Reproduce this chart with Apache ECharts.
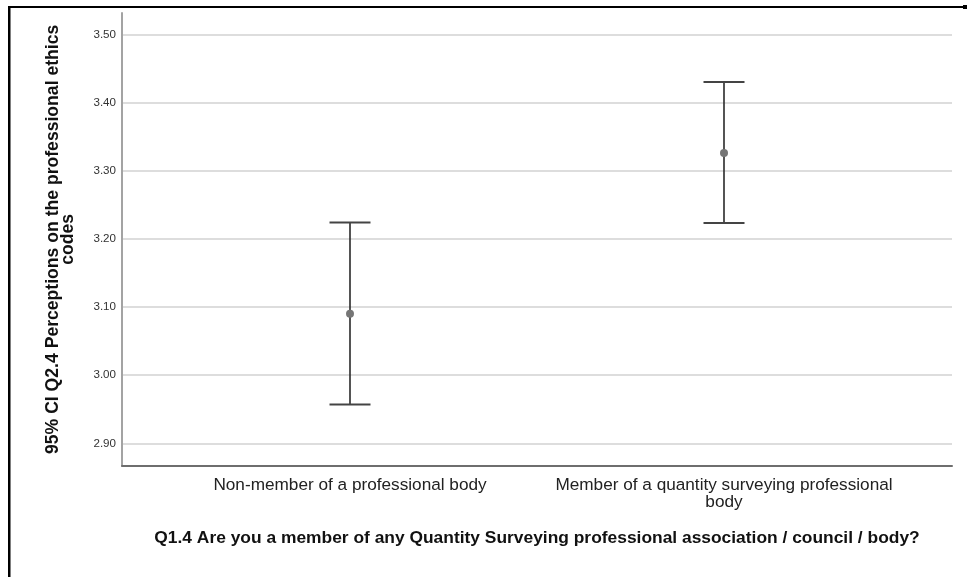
<!DOCTYPE html>
<html>
<head>
<meta charset="utf-8">
<script src="https://cdn.jsdelivr.net/npm/echarts@6/dist/echarts.min.js"></script>
<style>
  html, body { margin: 0; padding: 0; background: #fff; }
  #chart { width: 967px; height: 577px; }
</style>
</head>
<body>
<div id="chart"></div>
<script>
// Group labels along the horizontal axis
const categories = [
  'Non-member of a professional body',
  'Member of a quantity surveying professional\nbody'
];
// Group means and 95% confidence limits
const means   = [3.090, 3.326];
const lowerCI = [2.957, 3.223];
const upperCI = [3.224, 3.430];
// Value-axis tick range
const yMin = 2.9;
const yMax = 3.5;
const yStep = 0.1;

const FONT = '"Liberation Sans", Arial, sans-serif';

const chart = echarts.init(document.getElementById('chart'), null, { renderer: 'canvas' });

const errorData = categories.map((c, i) => [i, lowerCI[i], upperCI[i], means[i]]);

function renderErrorBar(params, api) {
  const x = api.value(0);
  const lo = api.coord([x, api.value(1)]);
  const hi = api.coord([x, api.value(2)]);
  const m  = api.coord([x, api.value(3)]);
  const half = 20.5;
  return {
    type: 'group',
    children: [
      { type: 'line', shape: { x1: lo[0], y1: lo[1], x2: hi[0], y2: hi[1] },
        style: { stroke: '#2a2a2a', lineWidth: 1.6 } },
      { type: 'line', shape: { x1: hi[0] - half, y1: hi[1], x2: hi[0] + half, y2: hi[1] },
        style: { stroke: '#444', lineWidth: 2 } },
      { type: 'line', shape: { x1: lo[0] - half, y1: lo[1], x2: lo[0] + half, y2: lo[1] },
        style: { stroke: '#444', lineWidth: 2 } },
      { type: 'circle', shape: { cx: m[0], cy: m[1], r: 4 },
        style: { fill: '#767676' } }
    ]
  };
}

const option = {
  backgroundColor: '#fff',
  animation: false,
  textStyle: { fontFamily: FONT },
  grid: [
    // plot frame (axis lines)
    { left: 122, top: 13, width: 830, height: 452.7 },
    // reference lines and value labels
    { left: 122, top: 34.3, width: 830, height: 409 },
    // error bars
    { left: 163, top: 34.3, width: 748, height: 409 }
  ],
  xAxis: [
    {
      gridIndex: 0, type: 'value', min: 0, max: 1,
      axisLine: { show: true, lineStyle: { color: '#6e6e6e', width: 2 } },
      axisTick: { show: false }, axisLabel: { show: false }, splitLine: { show: false },
      name: 'Q1.4 Are you a member of any Quantity Surveying professional association / council / body?',
      nameLocation: 'middle', nameGap: 64,
      nameTextStyle: { fontFamily: FONT, fontSize: 17.4, fontWeight: 'bold', color: '#111' }
    },
    { gridIndex: 1, type: 'value', min: 0, max: 1, show: false },
    {
      gridIndex: 2, type: 'category', data: categories, boundaryGap: true,
      axisLine: { show: false }, axisTick: { show: false }, splitLine: { show: false },
      axisLabel: { fontFamily: FONT, fontSize: 17.2, lineHeight: 17, color: '#222', margin: 33, interval: 0 }
    }
  ],
  yAxis: [
    {
      gridIndex: 0, type: 'value', min: 0, max: 1,
      axisLine: { show: true, lineStyle: { color: '#a3a3a3', width: 2 } },
      axisTick: { show: false }, axisLabel: { show: false }, splitLine: { show: false },
      name: '95% CI Q2.4 Perceptions on the professional ethics\ncodes',
      nameLocation: 'middle', nameRotate: 90, nameGap: 46,
      nameTextStyle: { fontFamily: FONT, fontSize: 17.6, fontWeight: 'bold', color: '#111', lineHeight: 15, align: 'center' }
    },
    {
      gridIndex: 1, type: 'value', min: yMin, max: yMax, interval: yStep,
      axisLine: { show: false }, axisTick: { show: false },
      axisLabel: { fontFamily: FONT, fontSize: 11.6, color: '#333', margin: 6,
                   padding: [3, 0, 0, 0],
                   formatter: v => v.toFixed(2) },
      splitLine: { show: true, lineStyle: { color: '#d2d2d2', width: 1.5 } }
    },
    { gridIndex: 2, type: 'value', min: yMin, max: yMax, show: false }
  ],
  series: [
    {
      type: 'custom',
      xAxisIndex: 2, yAxisIndex: 2,
      renderItem: renderErrorBar,
      data: errorData,
      z: 5
    }
  ],
  graphic: [
    { type: 'rect', shape: { x: 8, y: 6, width: 959, height: 2 }, style: { fill: '#000' }, silent: true },
    { type: 'rect', shape: { x: 963, y: 5, width: 4, height: 4 }, style: { fill: '#000' }, silent: true },
    { type: 'rect', shape: { x: 8, y: 6, width: 2.5, height: 571 }, style: { fill: '#000' }, silent: true }
  ]
};

chart.setOption(option);
</script>
</body>
</html>
